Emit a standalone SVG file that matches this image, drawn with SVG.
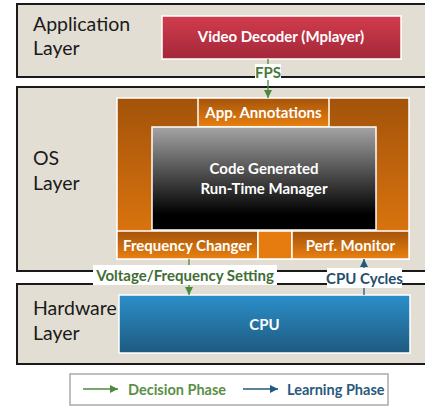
<svg xmlns="http://www.w3.org/2000/svg" width="425" height="410" viewBox="0 0 425 410">
  <defs>
    <linearGradient id="gRed" x1="0" y1="0" x2="0" y2="1">
      <stop offset="0" stop-color="#d23c4d"/>
      <stop offset="1" stop-color="#a2283a"/>
    </linearGradient>
    <linearGradient id="gOrangeOuter" x1="0" y1="0" x2="0" y2="1">
      <stop offset="0" stop-color="#a3530a"/>
      <stop offset="1" stop-color="#e47a0f"/>
    </linearGradient>
    <linearGradient id="gOrange" x1="0" y1="0" x2="0" y2="1">
      <stop offset="0" stop-color="#a4540a"/>
      <stop offset="1" stop-color="#ea8010"/>
    </linearGradient>
    <linearGradient id="gDark" x1="0" y1="0" x2="0" y2="1">
      <stop offset="0" stop-color="#a4a4a4"/>
      <stop offset="0.85" stop-color="#000"/>
      <stop offset="1" stop-color="#000"/>
    </linearGradient>
    <linearGradient id="gBlue" x1="0" y1="0" x2="0" y2="1">
      <stop offset="0" stop-color="#2b8fc9"/>
      <stop offset="1" stop-color="#1e5a80"/>
    </linearGradient>
    <marker id="arrGreen" viewBox="0 0 10 10" refX="10" refY="5" markerWidth="8" markerHeight="8" markerUnits="userSpaceOnUse" orient="auto">
      <path d="M0,0 L10,5 L0,10 Z" fill="#4e8a3e"/>
    </marker>
    <marker id="arrBlue" viewBox="0 0 10 10" refX="10" refY="5" markerWidth="8" markerHeight="8" markerUnits="userSpaceOnUse" orient="auto">
      <path d="M0,0 L10,5 L0,10 Z" fill="#1f5a80"/>
    </marker>
  </defs>
  <style>
    .layer { fill: #e3ded3; stroke: #1a1a1a; stroke-width: 2; }
    .layerText { font-family: Lato, "Liberation Sans", sans-serif; font-size: 19.5px; fill: #1a1a1a; }
    .box { stroke: #ffffff; stroke-width: 1.5; }
    .boxText { font-family: Lato, "Liberation Sans", sans-serif; font-weight: bold; font-size: 15px; fill: #ffffff; text-anchor: middle; }
    .lbl { font-family: Lato, "Liberation Sans", sans-serif; font-weight: bold; font-size: 15px; text-anchor: middle; }
    .legendText { font-family: Lato, "Liberation Sans", sans-serif; font-weight: bold; font-size: 14.5px; }
    .green { stroke: #4e8a3e; stroke-width: 1.3; fill: none; }
    .blue { stroke: #1f5a80; stroke-width: 1.3; fill: none; }
  </style>

  <!-- Layers -->
  <g id="app-layer">
    <rect class="layer" x="17" y="4" width="420" height="73"/>
    <text class="layerText" x="33" y="31">Application</text>
    <text class="layerText" x="33" y="55">Layer</text>
  </g>
  <g id="os-layer">
    <rect class="layer" x="17" y="87" width="420" height="184"/>
    <text class="layerText" x="33" y="165">OS</text>
    <text class="layerText" x="33" y="190">Layer</text>
  </g>
  <g id="hw-layer">
    <rect class="layer" x="17" y="284" width="420" height="80"/>
    <text class="layerText" x="33" y="315">Hardware</text>
    <text class="layerText" x="33" y="340">Layer</text>
  </g>

  <!-- Nodes -->
  <g id="video-decoder">
    <rect class="box" x="162" y="16" width="239" height="43" fill="url(#gRed)"/>
    <text class="boxText" x="281" y="42">Video Decoder (Mplayer)</text>
  </g>
  <g id="os-frame">
    <rect class="box" x="117" y="98" width="292" height="161" fill="url(#gOrangeOuter)"/>
  </g>
  <g id="app-annotations">
    <rect class="box" x="198" y="98" width="131" height="29" fill="url(#gOrange)"/>
    <text class="boxText" x="263.5" y="118">App. Annotations</text>
  </g>
  <g id="runtime-manager">
    <rect class="box" x="152" y="127" width="224" height="103" fill="url(#gDark)"/>
    <text class="boxText" x="264" y="174">Code Generated</text>
    <text class="boxText" x="264" y="194">Run-Time Manager</text>
  </g>
  <g id="frequency-changer">
    <rect class="box" x="117" y="231" width="141" height="28" fill="url(#gOrange)"/>
    <text class="boxText" x="187.5" y="250.5">Frequency Changer</text>
  </g>
  <g id="spacer">
    <rect class="box" x="258" y="231" width="34" height="28" fill="#e67c10"/>
  </g>
  <g id="perf-monitor">
    <rect class="box" x="292" y="231" width="117" height="28" fill="url(#gOrange)"/>
    <text class="boxText" x="350.5" y="250.5">Perf. Monitor</text>
  </g>
  <g id="cpu">
    <rect class="box" x="119" y="295" width="291" height="58" fill="url(#gBlue)"/>
    <text class="boxText" x="264.5" y="330">CPU</text>
  </g>

  <!-- Connectors -->
  <g id="connectors">
    <line class="green" x1="268" y1="59" x2="268" y2="98" marker-end="url(#arrGreen)"/>
    <rect x="255" y="64" width="26" height="16" fill="#ffffff"/>
    <text class="lbl" x="268" y="78" fill="#4a7a3a">FPS</text>

    <line class="green" x1="189" y1="259" x2="189" y2="295" marker-end="url(#arrGreen)"/>
    <rect x="93" y="265" width="184" height="20" fill="#ffffff"/>
    <text class="lbl" x="185" y="281" fill="#3f6e35">Voltage/Frequency Setting</text>

    <line class="blue" x1="364" y1="295" x2="364" y2="259" marker-end="url(#arrBlue)"/>
    <rect x="327" y="268" width="75" height="20" fill="#ffffff"/>
    <text class="lbl" x="364.5" y="283.5" fill="#1f4e6e">CPU Cycles</text>
  </g>

  <!-- Legend -->
  <g id="legend">
    <rect x="70" y="374" width="318" height="31" fill="#ffffff" stroke="#aaaaaa" stroke-width="1.5"/>
    <line class="green" x1="83" y1="389" x2="118" y2="389" marker-end="url(#arrGreen)"/>
    <text class="legendText" x="128" y="394.5" fill="#5a8f48">Decision Phase</text>
    <line class="blue" x1="243" y1="389" x2="278" y2="389" marker-end="url(#arrBlue)"/>
    <text class="legendText" x="287" y="394.5" fill="#2a5a7c">Learning Phase</text>
  </g>
</svg>
